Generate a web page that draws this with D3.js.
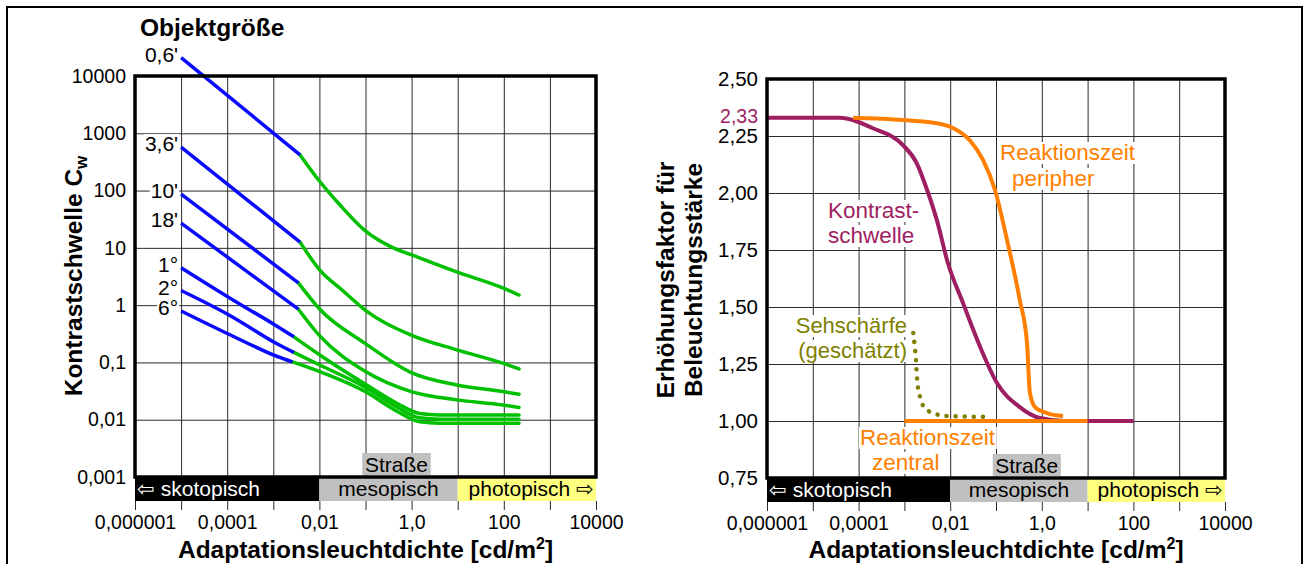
<!DOCTYPE html>
<html lang="de">
<head>
  <meta charset="UTF-8">
  <title>Kontrastschwelle und Erhöhungsfaktor</title>
  <style>
    body { margin: 0; background: #fff; }
    svg text { font-family: "Liberation Sans", Arial, Helvetica, sans-serif; }
  </style>
</head>
<body>
  <svg id="chart" width="1309" height="564"></svg>

  <script src="https://d3js.org/d3.v7.min.js"></script>
  <script>
    // shared luminance axis
    const decades = [1e-6, 1e-5, 1e-4, 1e-3, 1e-2, 1e-1, 1, 10, 100, 1000, 1e4];
    const decadeLabels = ["0,000001", "", "0,0001", "", "0,01", "", "1,0", "", "100", "", "10000"];
    const zoneNames = ["\u21E6 skotopisch", "mesopisch", "photopisch \u21E8"];
    const zoneLimits = [1e-6, 0.01, 10, 1e4];
    const roadLabel = "Straße";
    const roadLimits = [0.085, 2.6];

    // left chart: contrast threshold per object size
    const contrastTicks = [0.001, 0.01, 0.1, 1, 10, 100, 1000, 10000];
    const contrastTickText = ["0,001", "0,01", "0,1", "1", "10", "100", "1000", "10000"];
    const sizeLabels = ["0,6'", "3,6'", "10'", "18'", "1°", "2°", "6°"];
    const scotopicLines = [
      [[1e-5, 21000], [0.0038, 420]],
      [[1e-5, 575], [0.0038, 12.6]],
      [[1e-5, 87], [0.0035, 2.45]],
      [[1e-5, 27], [0.0035, 0.85]],
      [[1e-5, 4.5], [1e-4, 1.42], [0.001, 0.47], [0.0028, 0.28]],
      [[1e-5, 1.8], [1e-4, 0.70], [0.001, 0.23], [0.0028, 0.15]],
      [[1e-5, 0.79], [1e-4, 0.32], [0.001, 0.135], [0.0026, 0.102]]
    ];
    const mesopicLines = [
      [[0.0038, 420], [0.0098, 150], [0.028, 56], [0.098, 20], [0.4, 10], [0.98, 7.6], [9.5, 3.8], [95, 2.0], [214, 1.5]],
      [[0.0038, 12.6], [0.0102, 4.1], [0.031, 1.84], [0.098, 0.82], [0.98, 0.30], [9.5, 0.166], [95, 0.097], [214, 0.077]],
      [[0.0035, 2.45], [0.0102, 0.85], [0.098, 0.215], [0.98, 0.0665], [9.5, 0.0405], [95, 0.031], [214, 0.0278]],
      [[0.0035, 0.85], [0.0102, 0.29], [0.098, 0.070], [0.98, 0.031], [9.5, 0.0222], [95, 0.0181], [214, 0.0163]],
      [[0.0028, 0.28], [0.0102, 0.135], [0.098, 0.042], [0.5, 0.019], [1.5, 0.0128], [4, 0.0121], [214, 0.0121]],
      [[0.0028, 0.15], [0.0102, 0.090], [0.098, 0.0369], [0.5, 0.0163], [1.5, 0.0108], [4, 0.0102], [214, 0.0102]],
      [[0.0026, 0.102], [0.0102, 0.069], [0.098, 0.031], [0.5, 0.0138], [1.5, 0.0092], [4, 0.0087], [214, 0.0087]]
    ];

    // right chart: illuminance factor
    const factorTicks = [0.75, 1, 1.25, 1.5, 1.75, 2, 2.25, 2.5];
    const factorTickText = ["0,75", "1,00", "1,25", "1,50", "1,75", "2,00", "2,25", "2,50"];
    const plateauValue = 2.33;
    const plateauText = "2,33";
    const contrastFactor = [[1e-6, 2.33], [3.9e-5, 2.33], [2.0e-4, 2.285], [9.3e-4, 2.21], [0.0018, 2.136], [0.0033, 2.0],
      [0.0051, 1.882], [0.0089, 1.693], [0.019, 1.518], [0.045, 1.325], [0.105, 1.167], [0.33, 1.061], [0.91, 1.013], [3.2, 1.0], [100, 1.0]];
    const reactionPeripheral = [[7.6e-5, 2.33], [0.0036, 2.31], [0.0115, 2.285], [0.027, 2.23], [0.052, 2.145], [0.095, 2.013],
      [0.174, 1.794], [0.33, 1.531], [0.475, 1.342], [0.55, 1.123], [0.71, 1.061], [1.29, 1.035], [2.9, 1.022]];
    const reactionCentral = [[0.001, 1.0], [10, 1.0]];
    const visualAcuity = [[0.00156, 1.386], [0.00178, 1.268], [0.0019, 1.18], [0.0022, 1.105], [0.0028, 1.057],
      [0.0042, 1.035], [0.0085, 1.022], [0.063, 1.018]];

    const svg = d3.select('#chart');
    const barHeight = 24;

    svg.append('rect')
      .attr('x', 7).attr('y', 7).attr('width', 1295).attr('height', 620)
      .attr('fill', 'none').attr('stroke', '#000').attr('stroke-width', 2);

    function drawPanel(x, y, yTicks, yText, yFontSize) {
      const [x0, x1] = x.range();
      const [yb, yt] = y.range();
      const g = svg.append('g');

      // vertical grid
      g.append('g')
        .attr('transform', `translate(0, ${yb})`)
        .call(d3.axisBottom(x).tickValues(decades).tickSize(-(yb - yt)).tickFormat(''))
        .call(a => a.select('.domain').remove())
        .call(a => a.selectAll('line').attr('stroke', '#2a2a2a'));

      // horizontal grid + labels
      const yAxis = g.append('g')
        .attr('transform', `translate(${x0}, 0)`)
        .call(d3.axisLeft(y).tickValues(yTicks).tickSize(-(x1 - x0)).tickPadding(9)
          .tickFormat((d, i) => yText[i]))
        .call(a => a.select('.domain').remove())
        .call(a => a.selectAll('line').attr('stroke', '#2a2a2a'))
        .call(a => a.selectAll('text').attr('fill', '#000').style('font-size', yFontSize + 'px'));

      // zone bar
      const zoneFill = ['#000', '#c0c0c0', '#ffff80'];
      const zones = zoneNames.map((n, i) => ({ name: n, from: zoneLimits[i], to: zoneLimits[i + 1], fill: zoneFill[i] }));
      g.selectAll('.zone')
        .data(zones)
        .enter()
        .append('rect')
        .attr('x', d => x(d.from))
        .attr('y', yb)
        .attr('width', d => x(d.to) - x(d.from))
        .attr('height', barHeight)
        .attr('fill', d => d.fill);

      g.selectAll('.zone-label')
        .data(zones)
        .enter()
        .append('text')
        .attr('x', (d, i) => i === 0 ? x(d.from) + 2 : i === 1 ? (x(d.from) + x(d.to)) / 2 : x(d.to) - 2)
        .attr('y', yb + 19)
        .attr('text-anchor', (d, i) => ['start', 'middle', 'end'][i])
        .attr('fill', (d, i) => i === 0 ? '#fff' : '#000')
        .style('font-size', '21px')
        .text(d => d.name);

      // road box
      g.append('rect')
        .attr('x', x(roadLimits[0]))
        .attr('y', yb - 24)
        .attr('width', x(roadLimits[1]) - x(roadLimits[0]))
        .attr('height', 22)
        .attr('fill', '#c0c0c0');
      g.append('text')
        .attr('x', (x(roadLimits[0]) + x(roadLimits[1])) / 2)
        .attr('y', yb - 5)
        .attr('text-anchor', 'middle')
        .style('font-size', '21px')
        .text(roadLabel);

      // ticks below bar
      g.append('g')
        .attr('transform', `translate(0, ${yb + barHeight})`)
        .call(d3.axisBottom(x).tickValues(decades).tickSize(9).tickPadding(5)
          .tickFormat((d, i) => decadeLabels[i]))
        .call(a => a.select('.domain').remove())
        .call(a => a.selectAll('line').attr('stroke', '#2a2a2a'))
        .call(a => a.selectAll('text').attr('fill', '#000').style('font-size', '19.5px'));

      g.append('text')
        .attr('x', (x0 + x1) / 2)
        .attr('y', 558)
        .attr('text-anchor', 'middle')
        .style('font-size', '24.5px')
        .style('font-weight', 'bold')
        .html('Adaptationsleuchtdichte [cd/m<tspan font-size="16px" dy="-9">2</tspan><tspan dy="9">]</tspan>');

      return { g, yAxis };
    }

    function drawFrame(x, y) {
      const [x0, x1] = x.range();
      const [yb, yt] = y.range();
      svg.append('rect')
        .attr('x', x0).attr('y', yt)
        .attr('width', x1 - x0).attr('height', yb - yt)
        .attr('fill', 'none').attr('stroke', '#000').attr('stroke-width', 3.5);
    }

    function addLabel(parent, text, px, py, anchor, color, size) {
      const t = parent.append('text')
        .attr('x', px).attr('y', py)
        .attr('text-anchor', anchor)
        .attr('fill', color)
        .style('font-size', size + 'px')
        .text(text);
      const b = t.node().getBBox();
      parent.insert('rect', () => t.node())
        .attr('x', b.x - 1).attr('y', b.y + 2)
        .attr('width', b.width + 2).attr('height', b.height - 3)
        .attr('fill', '#fff');
      return t;
    }

    // ---------- left chart ----------
    const xL = d3.scaleLog().domain([1e-6, 1e4]).range([135, 596]);
    const yL = d3.scaleLog().domain([0.001, 10000]).range([477, 76]);
    const left = drawPanel(xL, yL, contrastTicks, contrastTickText, 19.5);

    const blueLine = d3.line().x(d => xL(d[0])).y(d => yL(d[1])).curve(d3.curveCatmullRom.alpha(0.5));
    const greenLine = d3.line().x(d => xL(d[0])).y(d => yL(d[1])).curve(d3.curveMonotoneX);

    left.g.selectAll('.meso')
      .data(mesopicLines)
      .enter()
      .append('path')
      .attr('d', greenLine)
      .attr('fill', 'none')
      .attr('stroke', '#00c000')
      .attr('stroke-width', 3.5)
      .attr('stroke-linecap', 'round');

    left.g.selectAll('.scoto')
      .data(scotopicLines)
      .enter()
      .append('path')
      .attr('d', blueLine)
      .attr('fill', 'none')
      .attr('stroke', '#0a0aff')
      .attr('stroke-width', 3.5)
      .attr('stroke-linecap', 'butt');

    sizeLabels.forEach((s, i) => {
      const p = scotopicLines[i][0];
      addLabel(left.g, s, xL(p[0]) - 3, yL(p[1]) + 4, 'end', '#000', 21);
    });

    svg.append('text')
      .attr('x', 140).attr('y', 36)
      .style('font-size', '24.5px')
      .style('font-weight', 'bold')
      .text('Objektgröße');

    svg.append('text')
      .attr('transform', 'translate(73, 276) rotate(-90)')
      .attr('text-anchor', 'middle')
      .attr('dy', '0.35em')
      .style('font-size', '24.5px')
      .style('font-weight', 'bold')
      .html('Kontrastschwelle C<tspan font-size="17px" dy="5">w</tspan>');

    drawFrame(xL, yL);

    // ---------- right chart ----------
    const xR = d3.scaleLog().domain([1e-6, 1e4]).range([767, 1225]);
    const yR = d3.scaleLinear().domain([0.75, 2.5]).range([478, 79]);
    const right = drawPanel(xR, yR, factorTicks, factorTickText, 20.5);

    const lineR = d3.line().x(d => xR(d[0])).y(d => yR(d[1])).curve(d3.curveMonotoneX);

    // annotations first (white boxes sit under the curves)
    addLabel(right.g, 'Kontrast-', 828, 218, 'start', '#9e1e62', 22.5);
    addLabel(right.g, 'schwelle', 828, 243, 'start', '#9e1e62', 22.5);
    addLabel(right.g, 'Reaktionszeit', 1000, 160, 'start', '#ff8000', 22.5);
    addLabel(right.g, 'peripher', 1012, 186, 'start', '#ff8000', 22.5);
    addLabel(right.g, 'Sehschärfe', 907, 333, 'end', '#808000', 22);
    addLabel(right.g, '(geschätzt)', 907, 358, 'end', '#808000', 22);
    addLabel(right.g, 'Reaktionszeit', 860, 445, 'start', '#ff8000', 22.5);
    addLabel(right.g, 'zentral', 872, 470, 'start', '#ff8000', 22.5);

    right.g.append('path')
      .datum(contrastFactor)
      .attr('d', lineR)
      .attr('fill', 'none')
      .attr('stroke', '#9e1e62')
      .attr('stroke-width', 4);

    right.g.append('path')
      .datum(reactionPeripheral)
      .attr('d', lineR)
      .attr('fill', 'none')
      .attr('stroke', '#ff8000')
      .attr('stroke-width', 4);

    right.g.append('path')
      .datum(reactionCentral)
      .attr('d', lineR)
      .attr('fill', 'none')
      .attr('stroke', '#ff8000')
      .attr('stroke-width', 4);

    right.g.append('path')
      .datum(visualAcuity)
      .attr('d', lineR)
      .attr('fill', 'none')
      .attr('stroke', '#808000')
      .attr('stroke-width', 4.5)
      .attr('stroke-linecap', 'round')
      .attr('stroke-dasharray', '0.1 9');

    svg.append('text')
      .attr('x', xR.range()[0] - 9)
      .attr('y', yR(plateauValue))
      .attr('dy', '0.28em')
      .attr('text-anchor', 'end')
      .attr('fill', '#9e1e62')
      .style('font-size', '19.5px')
      .text(plateauText);

    svg.append('text')
      .attr('transform', 'translate(665, 280) rotate(-90)')
      .attr('text-anchor', 'middle')
      .attr('dy', '0.35em')
      .style('font-size', '24.5px')
      .style('font-weight', 'bold')
      .text('Erhöhungsfaktor für');

    svg.append('text')
      .attr('transform', 'translate(693, 280) rotate(-90)')
      .attr('text-anchor', 'middle')
      .attr('dy', '0.35em')
      .style('font-size', '24.5px')
      .style('font-weight', 'bold')
      .text('Beleuchtungsstärke');

    drawFrame(xR, yR);
  </script>
</body>
</html>
